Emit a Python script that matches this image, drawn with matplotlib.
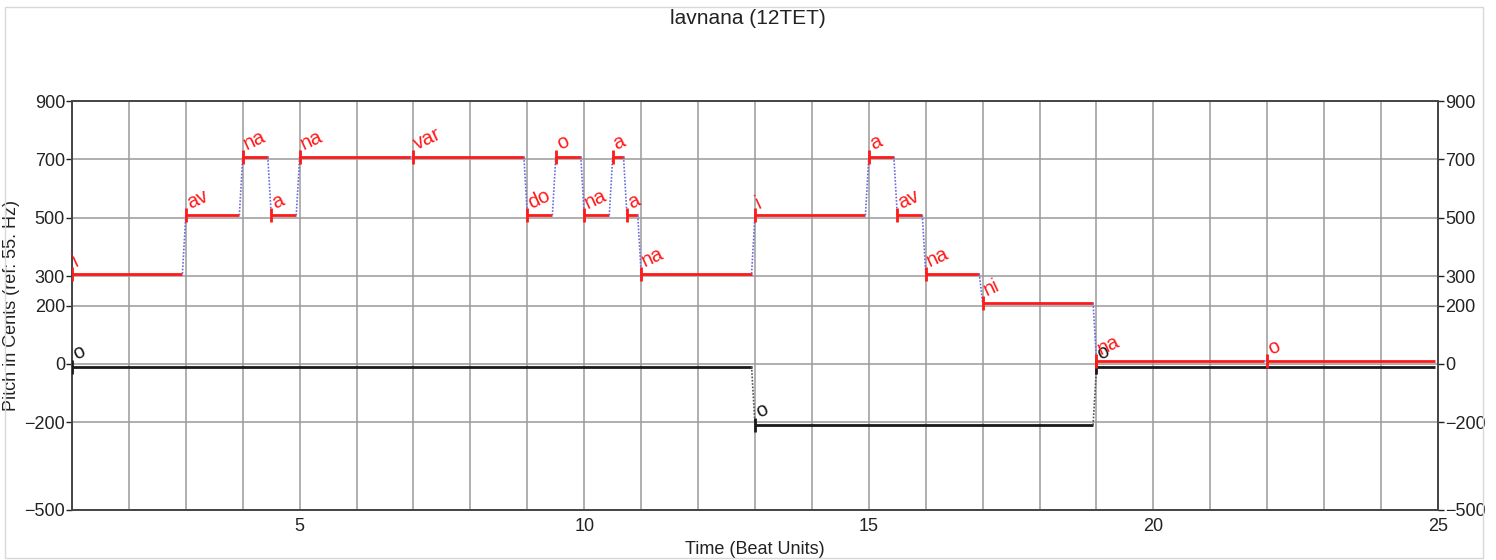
import matplotlib
matplotlib.use('Agg')
import matplotlib.pyplot as plt
from matplotlib.patches import Rectangle

# ==========================================
# DANE (melodia: start, koniec, wysokość w centach, sylaba)
# ==========================================
TITLE = 'lavnana (12TET)'

top_starts = [1.0, 3.0, 4.0, 4.5, 5.0, 7.0, 9.0, 9.5, 10.0, 10.5, 10.75,
              11.0, 13.0, 15.0, 15.5, 16.0, 17.0, 19.0, 22.0]
top_ends = [3.0, 4.0, 4.5, 5.0, 7.0, 9.0, 9.5, 10.0, 10.5, 10.75, 11.0,
            13.0, 15.0, 15.5, 16.0, 17.0, 19.0, 22.0, 25.0]
top_pitch = [300, 500, 700, 500, 700, 700, 500, 700, 500, 700, 500,
             300, 500, 700, 500, 300, 200, 0, 0]
top_syll = ['i', 'av', 'na', 'a', 'na', 'var', 'do', 'o', 'na', 'a', 'a',
            'na', 'i', 'a', 'av', 'na', 'ni', 'na', 'o']

low_starts = [1.0, 13.0, 19.0]
low_ends = [13.0, 19.0, 25.0]
low_pitch = [0, -200, 0]
low_syll = ['o', 'o', 'o']

y_ticks = [-500, -200, 0, 200, 300, 500, 700, 900]
x_ticks = [5, 10, 15, 20, 25]

plt.rcParams['font.family'] = ['Liberation Sans', 'DejaVu Sans']

GAP = 0.06  # krótka przerwa (glissando) na końcu nuty


def rysuj_glos(ax, starts, ends, pitch, syll, color, glide_color, offset, zorder):
    n = len(starts)
    for i in range(n):
        p = pitch[i] + offset
        x0, x1 = starts[i], ends[i] - GAP
        ax.plot([x0, x1], [p, p], color=color, lw=2.0, solid_capstyle='butt',
                zorder=zorder)
        ax.plot([x0], [p], marker='|', ms=10, mew=2.0, color=color, zorder=zorder)
        ax.annotate(syll[i], (x0, p), xytext=(4.0, 2.2), textcoords='offset points',
                    rotation=25, rotation_mode='anchor', ha='left', va='bottom',
                    color=color, fontsize=14.5, zorder=zorder + 1,
                    annotation_clip=False)
        if i + 1 < n:
            pn = pitch[i + 1] + offset
            ax.plot([x1, starts[i + 1]], [p, pn], color=glide_color, lw=1.2,
                    ls=(0, (1, 1)), zorder=zorder)


fig = plt.figure(figsize=(14.96, 5.6), dpi=100)
fig.patches.append(Rectangle((5 / 1496, 2 / 560), 1478 / 1496, 551 / 560,
                             transform=fig.transFigure, fill=False,
                             edgecolor='#d8d8d8', lw=1.0))
ax = fig.add_axes([72 / 1496, 1 - 510 / 560, (1438 - 72) / 1496, (510 - 101) / 560])

ax.set_xlim(1, 25)
ax.set_ylim(-500, 900)
ax.set_xticks(x_ticks)
ax.set_xticks(range(1, 26), minor=True)
ax.set_yticks(y_ticks)
ax.grid(True, which='both', axis='x', color='#9a9a9a', lw=1.1)
ax.grid(True, which='major', axis='y', color='#9a9a9a', lw=1.1)
ax.set_axisbelow(True)
ax.tick_params(axis='x', which='both', length=0, labelsize=13, pad=6, colors='#222')
ax.tick_params(axis='y', length=4, width=1, labelsize=13, pad=1, colors='#222',
               left=True, right=True, labelleft=True, labelright=True)
for sp in ax.spines.values():
    sp.set_color('#444')
    sp.set_linewidth(1.4)

rysuj_glos(ax, low_starts, low_ends, low_pitch, low_syll,
           '#1a1a1a', '#555555', -9, 3)
rysuj_glos(ax, top_starts, top_ends, top_pitch, top_syll,
           '#ff1a1a', '#6a6adf', 9, 4)

ax.set_xlabel('Time (Beat Units)', fontsize=13, labelpad=4, color='#222')
ax.set_ylabel('Pitch in Cents (ref: 55. Hz)', fontsize=13, labelpad=3, color='#222')
fig.text(0.5, 1 - 18 / 560, TITLE, ha='center', va='center', fontsize=15, color='#222')

fig.savefig('out.png', dpi=100)
